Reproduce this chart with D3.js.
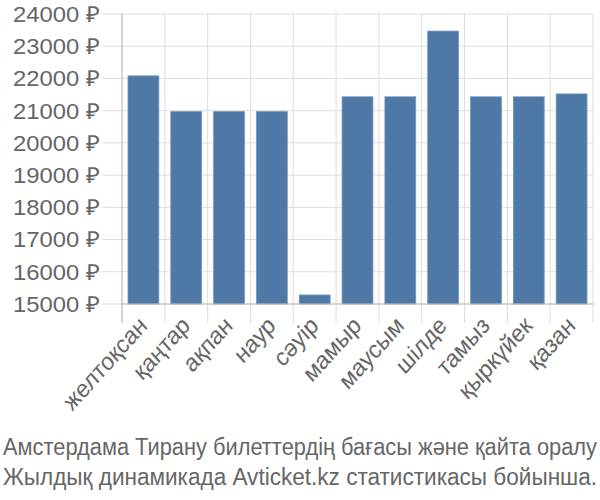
<!DOCTYPE html>
<html><head><meta charset="utf-8">
<script src="https://cdn.jsdelivr.net/npm/d3@7"></script>
<style>body{margin:0;background:#fff}</style>
</head><body>
<svg id="c" width="600" height="500"></svg>
<script>
const categories = ["желтоқсан","қаңтар","ақпан","наур","сәуір","мамыр","маусым","шілде","тамыз","қыркүйек","қазан"];
const values = [22080, 20970, 20970, 20970, 15280, 21430, 21430, 23470, 21430, 21430, 21520];
const yTicks = [15000,16000,17000,18000,19000,20000,21000,22000,23000,24000];
const titleLines = ["Амстердама Тирану билеттердің бағасы және қайта оралу","Жылдық динамикада Avticket.kz статистикасы бойынша."];

(function(){
const svg = d3.select("#c");
const pL = 122, pR = 593, pT = 14, pB = 304;
const x = d3.scaleBand().domain(categories).range([pL, pR]).paddingInner(0.28).paddingOuter(0.14);
const y = d3.scaleLinear().domain([15000, 24000]).range([pB, pT]);
const font = "Liberation Sans, Arial, sans-serif";
const textColor = "#666";

svg.append("g").selectAll("line").data(yTicks).join("line")
  .attr("x1", 102).attr("x2", pR).attr("y1", d => y(d)).attr("y2", d => y(d))
  .attr("stroke", "#ddd").attr("stroke-width", 1);
const edges = d3.range(categories.length + 1).map(i => pL + i * (pR-pL)/categories.length);
svg.append("g").selectAll("line").data(edges.slice(1)).join("line")
  .attr("x1", d => d).attr("x2", d => d).attr("y1", pT).attr("y2", 323)
  .attr("stroke", "#ddd").attr("stroke-width", 1);

svg.append("g").selectAll("rect").data(values).join("rect")
  .attr("x", (d,i) => x(categories[i]))
  .attr("width", x.bandwidth())
  .attr("y", d => y(d))
  .attr("height", d => y(15000) - y(d))
  .attr("fill", "#4e78a6")
  .attr("stroke", "#7394bd").attr("stroke-width", 0.8);

svg.append("line").attr("x1", pL).attr("x2", pL).attr("y1", pT).attr("y2", 323).attr("stroke", "#aaa").attr("stroke-width", 1);
svg.append("line").attr("x1", pL).attr("x2", pR).attr("y1", pB).attr("y2", pB).attr("stroke", "#bbb").attr("stroke-width", 1);

svg.append("g").selectAll("text").data(yTicks).join("text")
  .attr("x", 100).attr("y", d => y(d)).attr("dy", "0.36em")
  .attr("text-anchor", "end").attr("font-family", font).attr("font-size", 22)
  .attr("textLength", 87).attr("lengthAdjust", "spacingAndGlyphs")
  .attr("fill", textColor).text(d => d + " ₽");

svg.append("g").selectAll("text").data(categories).join("text")
  .attr("transform", d => `translate(${x(d) + x.bandwidth()/2 + 5},${327}) scale(0.97,1.08) rotate(-45)`)
  .attr("text-anchor", "end").attr("font-family", font).attr("font-size", 23)
  .attr("fill", textColor).text(d => d);

svg.append("g").selectAll("text").data(titleLines).join("text")
  .attr("transform", (d,i) => `translate(3,${455 + i*30}) scale(1,1.1)`)
  .attr("x", 0).attr("y", 0)
  .attr("text-anchor", "start").attr("font-family", font).attr("font-size", 22)
  .attr("textLength", 594).attr("lengthAdjust", "spacingAndGlyphs")
  .attr("fill", textColor).text(d => d);
})();
</script>
</body></html>
